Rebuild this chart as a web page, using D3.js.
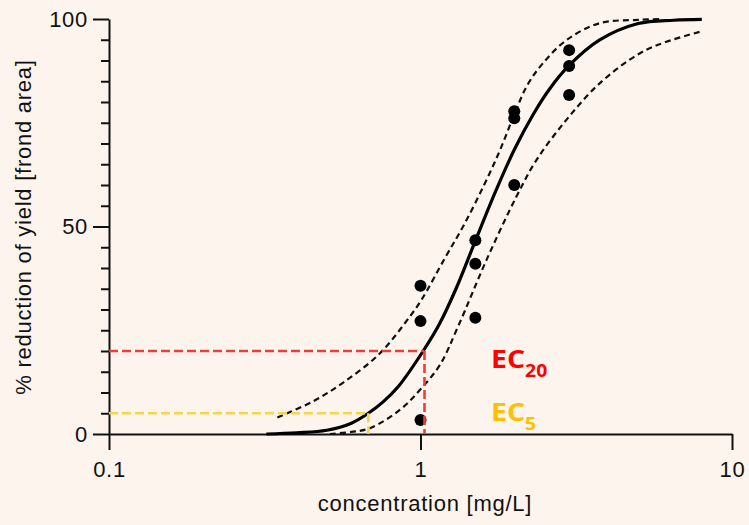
<!DOCTYPE html>
<html>
<head>
<meta charset="utf-8">
<script src="https://cdn.jsdelivr.net/npm/d3@7"></script>
<style>
  html, body { margin: 0; padding: 0; background: #fdf5ed; }
  svg { display: block; }
  .axis text { font-family: "Liberation Sans", Arial, sans-serif; font-size: 22px; fill: #111; letter-spacing: 0.7px; }
  .axis path, .axis line { stroke: #111; stroke-width: 2; }
</style>
</head>
<body>
<div id="chart"></div>
<script>
// measured data points (concentration in mg/L, % reduction)
const pointConc = [1, 1, 1, 1.5, 1.5, 1.5, 2, 2, 2, 3, 3, 3];
const pointValue = [35.7, 27.2, 3.4, 46.7, 41.0, 28.0, 77.8, 76.1, 60.0, 92.5, 88.7, 81.7];

// fitted curve
const fitConc = [0.32, 0.40, 0.50, 0.60, 0.68, 0.76, 0.85, 1.02, 1.15, 1.30, 1.49, 1.75, 2.00, 2.30, 2.60, 3.00, 3.75, 5.00, 6.50, 8.00];
const fitValue = [0, 0.3, 0.9, 2.6, 5.0, 7.8, 11.5, 20.0, 26.5, 35.0, 46.0, 58.8, 68.5, 77.0, 83.2, 88.8, 94.9, 98.9, 99.7, 99.9];

// upper confidence band
const upperConc = [0.347, 0.45, 0.565, 0.74, 0.924, 1.007, 1.20, 1.37, 1.60, 1.80, 2.00, 2.20, 2.47, 2.94, 3.76, 5.05, 6.00];
const upperValue = [4.0, 7.8, 12.4, 19.4, 28.3, 32.3, 42.5, 50.0, 60.0, 68.4, 77.0, 84.0, 89.3, 94.9, 99.0, 99.8, 100];

// lower confidence band
const lowerConc = [0.512, 0.60, 0.688, 0.858, 0.995, 1.153, 1.32, 1.628, 2.032, 2.356, 2.94, 3.76, 5.05, 6.155, 7.87];
const lowerValue = [0, 0.5, 1.4, 5.8, 10.6, 16.6, 25.9, 41.9, 57.2, 66.0, 75.7, 84.5, 91.7, 94.5, 96.9];

// effect concentrations
const ecNames = ["20", "5"];
const ecLevels = [20, 5];
const ecConc = [1.03, 0.68];
const ecLineColours = ["#f23c3c", "#f7d54a"];
const ecTextColours = ["#ff0000", "#ffc000"];

const xTicks = [0.1, 1, 10];
const xTickLabels = ["0.1", "1", "10"];
const yTicks = [0, 50, 100];

const width = 749, height = 525;

const svg = d3.select("#chart")
  .append("svg")
  .attr("width", width)
  .attr("height", height);

svg.append("rect")
  .attr("width", width)
  .attr("height", height)
  .attr("fill", "#fdf5ed");

const x = d3.scaleLog()
  .domain([0.1, 10])
  .range([109, 732]);

const y = d3.scaleLinear()
  .domain([0, 100])
  .range([434, 19]);

// minor y ticks
svg.append("g")
  .attr("class", "axis")
  .attr("transform", "translate(109,0)")
  .call(d3.axisLeft(y)
    .tickValues(d3.range(0, 101, 5).filter(function(d) { return d % 50 !== 0; }))
    .tickSize(8)
    .tickFormat(""))
  .call(function(g) { g.select(".domain").remove(); });

// main y axis
svg.append("g")
  .attr("class", "axis")
  .attr("transform", "translate(109,0)")
  .call(d3.axisLeft(y)
    .tickValues(yTicks)
    .tickSize(16)
    .tickSizeOuter(0)
    .tickPadding(5));

// x axis
svg.append("g")
  .attr("class", "axis")
  .attr("transform", "translate(0,434)")
  .call(d3.axisBottom(x)
    .tickValues(xTicks)
    .tickFormat(function(d, i) { return xTickLabels[i]; })
    .tickSize(16)
    .tickSizeOuter(0)
    .tickPadding(11));

// axis titles
svg.append("text")
  .attr("x", 425)
  .attr("y", 511)
  .attr("text-anchor", "middle")
  .style("font-family", '"Liberation Sans", Arial, sans-serif')
  .style("font-size", "22px")
  .style("letter-spacing", "0.75px")
  .style("fill", "#111")
  .text("concentration [mg/L]");

svg.append("text")
  .attr("transform", "translate(31,227) rotate(-90)")
  .attr("text-anchor", "middle")
  .style("font-family", '"Liberation Sans", Arial, sans-serif')
  .style("font-size", "22px")
  .style("letter-spacing", "0.75px")
  .style("fill", "#111")
  .text("% reduction of yield [frond area]");

const line = d3.line()
  .x(function(d) { return x(d[0]); })
  .y(function(d) { return y(d[1]); })
  .curve(d3.curveCatmullRom.alpha(0.5));

svg.append("path")
  .datum(d3.zip(upperConc, upperValue))
  .attr("d", line)
  .attr("fill", "none")
  .attr("stroke", "#111")
  .attr("stroke-width", 2.2)
  .attr("stroke-dasharray", "6,4");

svg.append("path")
  .datum(d3.zip(lowerConc, lowerValue))
  .attr("d", line)
  .attr("fill", "none")
  .attr("stroke", "#111")
  .attr("stroke-width", 2.2)
  .attr("stroke-dasharray", "6,4");

svg.append("path")
  .datum(d3.zip(fitConc, fitValue))
  .attr("d", line)
  .attr("fill", "none")
  .attr("stroke", "#000")
  .attr("stroke-width", 3.2);

svg.selectAll("circle.pt")
  .data(d3.zip(pointConc, pointValue))
  .enter()
  .append("circle")
  .attr("class", "pt")
  .attr("cx", function(d) { return x(d[0]); })
  .attr("cy", function(d) { return y(d[1]); })
  .attr("r", 6)
  .attr("fill", "#000");

// EC guide lines
ecLevels.forEach(function(level, i) {
  const g = svg.append("g")
    .attr("fill", "none")
    .attr("stroke", ecLineColours[i])
    .attr("stroke-width", 2.6)
    .attr("stroke-dasharray", "9,4");
  g.append("line")
    .attr("x1", x(0.1)).attr("x2", x(ecConc[i]))
    .attr("y1", y(level)).attr("y2", y(level));
  g.append("line")
    .attr("x1", x(ecConc[i])).attr("x2", x(ecConc[i]))
    .attr("y1", y(level)).attr("y2", y(0));
});

// EC labels (slightly widened, like the original)
const ecLabelY = [368, 421];
ecNames.forEach(function(name, i) {
  const t = svg.append("text")
    .attr("transform", "translate(491," + ecLabelY[i] + ") scale(1.14,1)")
    .style("font-family", '"Open Sans", sans-serif')
    .style("font-weight", "bold")
    .style("font-size", "25px")
    .style("fill", ecTextColours[i]);
  t.append("tspan").text("EC");
  t.append("tspan")
    .attr("dy", 9)
    .style("font-size", "17px")
    .text(name);
});
</script>
</body>
</html>
